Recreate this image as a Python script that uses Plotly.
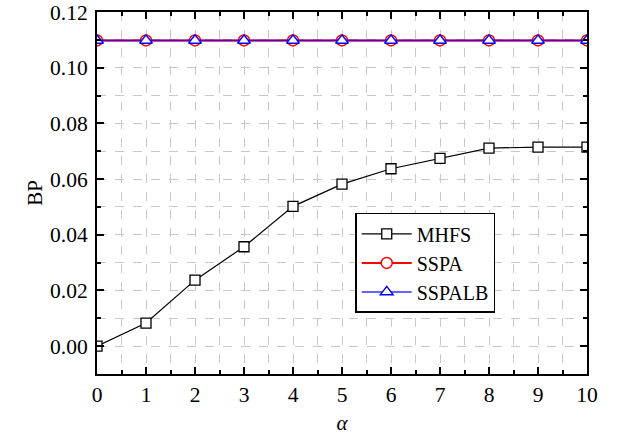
import plotly.graph_objects as go

alpha = [0, 1, 2, 3, 4, 5, 6, 7, 8, 9, 10]
mhfs = [0.0000, 0.0083, 0.0237, 0.0357, 0.0502, 0.0582, 0.0637, 0.0674, 0.0711, 0.0715, 0.0715]
sspa = [0.1098] * 11
sspalb = [0.1098] * 11
y_ticks = [0.00, 0.02, 0.04, 0.06, 0.08, 0.10, 0.12]
y_labels = ["0.00", "0.02", "0.04", "0.06", "0.08", "0.10", "0.12"]

FONT = "Liberation Serif"

fig = go.Figure()
fig.add_trace(go.Scatter(x=alpha, y=mhfs, name="MHFS", mode="lines+markers",
                         line=dict(color="black", width=1.2),
                         marker=dict(symbol="square", size=10, color="white",
                                     line=dict(color="black", width=1.3))))
fig.add_trace(go.Scatter(x=alpha, y=sspa, name="SSPA", mode="lines+markers",
                         line=dict(color="red", width=2),
                         marker=dict(symbol="circle", size=11, color="white",
                                     line=dict(color="red", width=1.5))))
fig.add_trace(go.Scatter(x=alpha, y=sspalb, name="SSPALB", mode="lines+markers",
                         line=dict(color="rgba(0,0,255,0.6)", width=2),
                         marker=dict(symbol="triangle-up", size=11, color="white",
                                     line=dict(color="blue", width=1.5))))

axis_common = dict(
    showline=True, linecolor="black", linewidth=2, mirror="ticks",
    ticks="inside", ticklen=7, tickwidth=1.5, tickcolor="black",
    showgrid=True, gridcolor="#c8c8c8", griddash="dash", gridwidth=1,
    zeroline=False, automargin=False, ticklabeloverflow="allow",
    tickfont=dict(family=FONT, size=21.5, color="black"),
)

fig.update_xaxes(range=[0, 10], tickvals=alpha, **axis_common,
                 minor=dict(dtick=0.5, ticks="inside", ticklen=4, tickcolor="black",
                            showgrid=True, gridcolor="#c8c8c8", griddash="dash"),
                 title=dict(text="<i>α</i>", font=dict(family=FONT, size=21, color="black"),
                            standoff=10))
fig.update_yaxes(range=[-0.01, 0.12], tickvals=y_ticks, ticktext=y_labels, **axis_common,
                 ticklabelstandoff=3,
                 minor=dict(dtick=0.01, tick0=0, ticks="inside", ticklen=4, tickcolor="black",
                            showgrid=True, gridcolor="#c8c8c8", griddash="dash"),
                 title=dict(text="BP", font=dict(family=FONT, size=21, color="black"),
                            standoff=2))

fig.update_layout(
    width=622, height=442,
    margin=dict(l=97, r=35, t=12, b=68),
    plot_bgcolor="white", paper_bgcolor="white",
    font=dict(family=FONT, size=21, color="black"),
    legend=dict(x=0.527, y=0.445, xanchor="left", yanchor="top",
                bgcolor="white", bordercolor="black", borderwidth=1.5,
                font=dict(family=FONT, size=20, color="black"),
                tracegroupgap=0, itemwidth=50),
)

fig.write_html("out.html")
